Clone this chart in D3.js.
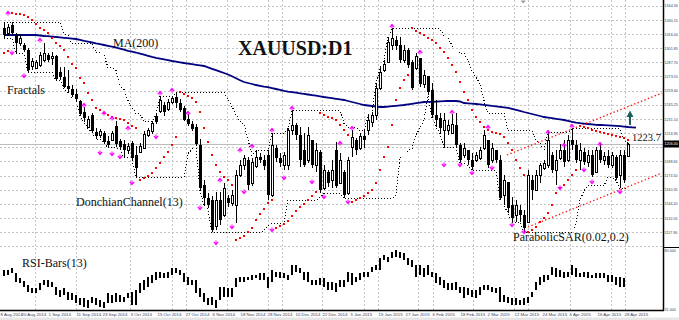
<!DOCTYPE html>
<html>
<head>
<meta charset="utf-8">
<script src="https://cdnjs.cloudflare.com/ajax/libs/d3/7.8.5/d3.min.js"></script>
<style>
  body { margin: 0; background: #fff; }
  svg { display: block; }
  .lbl { font-family: "Liberation Serif", "Times New Roman", serif; fill: #111; }
  .axis text { font-family: "Liberation Sans", Arial, sans-serif; font-size: 4.4px; fill: #3a3a5a; }
  .axis.right text { font-size: 3.7px; }
  .axis path, .axis line { display: none; }
</style>
</head>
<body>
<div id="chart"></div>
<script>
// daily XAUUSD bars, oldest first
const highs = [1328,1326,1328,1317,1315,1307,1302,1292,1290,1298,1307,1297,1298,1295,1283,1283,1280,1265,1261,1250,1243,1234,1237,1222,1221,1219,1214,1219,1229,1211,1210,1207,1209,1204,1207,1219,1222,1228,1236,1254,1248,1251,1254,1258,1251,1244,1236,1229,1226,1211,1170,1157,1154,1158,1158,1167,1155,1160,1180,1190,1195,1193,1192,1200,1197,1195,1200,1217,1205,1197,1198,1222,1240,1227,1223,1217,1223,1210,1207,1200,1185,1180,1190,1208,1197,1180,1193,1220,1212,1217,1220,1235,1238,1267,1283,1290,1313,1322,1314,1313,1305,1302,1290,1297,1290,1280,1273,1267,1250,1237,1237,1230,1236,1237,1207,1207,1200,1197,1198,1203,1220,1210,1207,1200,1195,1175,1168,1153,1150,1145,1140,1180,1175,1180,1187,1190,1218,1198,1200,1206,1210,1215,1222,1210,1207,1202,1200,1200,1203,1206,1198,1200,1198,1195,1200,1200,1207];
const lows = [1312,1314,1315,1297,1304,1298,1278,1280,1281,1283,1288,1288,1285,1270,1270,1262,1258,1253,1250,1235,1228,1222,1218,1211,1212,1207,1203,1209,1203,1201,1193,1196,1190,1173,1197,1201,1213,1216,1226,1237,1234,1239,1246,1242,1238,1229,1224,1219,1204,1160,1144,1142,1118,1120,1125,1133,1143,1144,1127,1173,1180,1160,1164,1182,1187,1180,1150,1153,1188,1183,1180,1180,1215,1210,1183,1183,1187,1182,1178,1157,1160,1163,1162,1162,1167,1152,1155,1193,1195,1200,1202,1215,1223,1230,1260,1278,1288,1300,1300,1287,1287,1282,1260,1280,1263,1262,1255,1233,1223,1217,1203,1215,1217,1203,1187,1192,1185,1180,1188,1190,1200,1182,1187,1187,1150,1145,1137,1128,1128,1128,1118,1127,1150,1160,1167,1180,1182,1177,1165,1190,1183,1188,1200,1187,1180,1185,1183,1173,1178,1187,1185,1182,1182,1170,1162,1167,1193];
const opens = [1322,1317,1325,1315,1307,1305,1300,1284,1282,1285,1290,1295,1292,1294,1278,1273,1264,1261,1256,1249,1238,1223,1235,1218,1215,1217,1209,1210,1224,1209,1206,1200,1207,1195,1198,1202,1215,1219,1234,1239,1245,1241,1248,1253,1247,1242,1231,1226,1223,1205,1165,1152,1150,1124,1150,1135,1152,1147,1145,1175,1185,1190,1167,1184,1193,1190,1195,1155,1202,1192,1185,1185,1220,1225,1215,1200,1190,1210,1185,1198,1162,1178,1170,1200,1167,1178,1157,1203,1210,1202,1214,1220,1228,1235,1262,1280,1288,1305,1310,1305,1290,1300,1288,1282,1292,1266,1274,1260,1235,1232,1220,1220,1217,1225,1205,1195,1200,1190,1190,1192,1202,1210,1190,1200,1190,1155,1168,1145,1135,1140,1135,1128,1170,1160,1175,1182,1185,1195,1180,1192,1200,1190,1210,1205,1190,1198,1188,1195,1178,1200,1190,1194,1185,1193,1175,1195,1194];
const closes = [1315,1323,1317,1307,1312,1300,1280,1289,1288,1295,1297,1290,1294,1271,1273,1263,1261,1255,1251,1236,1232,1231,1219,1214,1219,1208,1205,1217,1206,1203,1200,1204,1192,1182,1204,1216,1220,1227,1228,1250,1238,1248,1252,1247,1240,1230,1226,1221,1206,1162,1152,1145,1120,1150,1130,1162,1147,1155,1175,1185,1192,1165,1188,1193,1190,1184,1155,1205,1192,1187,1195,1220,1225,1215,1190,1185,1215,1185,1200,1160,1180,1167,1180,1164,1190,1155,1190,1213,1200,1214,1210,1230,1235,1262,1278,1286,1308,1312,1304,1290,1300,1285,1262,1294,1266,1275,1258,1235,1230,1222,1230,1225,1226,1205,1190,1202,1190,1183,1195,1200,1215,1185,1202,1190,1152,1170,1142,1132,1145,1135,1122,1175,1160,1175,1185,1187,1210,1180,1190,1200,1188,1210,1205,1190,1200,1188,1195,1175,1200,1190,1194,1185,1195,1172,1195,1170,1206];

// MA(200), runs two bars past the last candle
const ma200 = [1315,1315,1315,1315,1315,1315,1315,1315,1315,1314.5,1314,1313.8,1313.4,1313,1312.6,1312.2,1311.8,1311.4,1311,1310.2,1309.2,1308.4,1307.5,1306.6,1305.8,1305,1304.2,1303.4,1302.5,1301.4,1300.3,1299.2,1298.4,1297.5,1296.4,1295.3,1294.2,1293.1,1292.2,1291.4,1290.6,1289.8,1289,1288.4,1287.7,1287,1286.4,1285.8,1285.2,1284.6,1284,1282.6,1281.2,1279.8,1278.4,1277,1275.5,1273.7,1271.7,1269.8,1268,1267,1266,1265,1264.2,1263.4,1262.8,1261.9,1261,1260.1,1259.2,1258.4,1257.9,1257.3,1256.7,1256.1,1255.5,1254.9,1254.3,1253.7,1253,1252.4,1251.8,1251.2,1250.6,1250,1249,1248,1247,1246,1245,1244.5,1244,1243.5,1243,1243,1243.4,1243.8,1244.2,1244.6,1245,1245.6,1246.2,1246.8,1247.4,1248,1248.1,1248.2,1248.4,1248.6,1248.8,1249,1249,1249,1248.5,1247,1246.7,1246.4,1246,1245.6,1245.1,1244.6,1244.1,1243.7,1243.2,1242.7,1242.2,1241.2,1240.2,1239.1,1238,1237,1236,1235,1234,1233,1232.4,1231.8,1231.2,1230.6,1230,1229.1,1228.2,1227.3,1226.8,1226.4,1226,1225.6,1225.2,1225,1224.8,1224.6,1224.4,1224.2,1223.8,1223.4,1223,1222.7,1222.4];

// Parabolic SAR(0.02,0.2)
const sar = [1297,1299,1337,1336,1336,1335,1333,1330,1326,1322,1320,1317,1312,1307,1304,1300,1293,1286,1282,1272,1267,1257,1250,1242,1240,1237,1235,1233,1232,1231,1230,1227,1224,1222,1170,1172,1174,1177,1182,1187,1193,1198,1205,1213,1258,1256,1254,1252,1248,1238,1222,1208,1195,1185,1178,1173,1170,1165,1110,1112,1114,1118,1122,1130,1136,1141,1147,1150,1122,1124,1126,1129,1134,1139,1143,1146,1150,1154,1158,1237,1235,1233,1232,1230,1225,1220,1215,1148,1150,1152,1154,1157,1160,1167,1180,1193,1203,1225,1250,1262,1270,1275,1322,1319,1317,1315,1312,1310,1307,1302,1298,1292,1285,1278,1268,1258,1250,1240,1233,1228,1223,1220,1218,1217,1216,1213,1207,1200,1190,1182,1175,1118,1120,1123,1128,1132,1137,1145,1157,1162,1165,1170,1175,1180,1224,1223,1222,1220,1219,1218,1217,1216,1215,1214,1213,1212,1210];

// RSI-Bars(13): upper and lower end of each bar
const rsiHigh = [60,60,62,57,52,49,45,42,42,47,50,50,48,43,40,42,38,37,35,32,32,30,33,32,30,28,37,35,37,35,33,37,38,40,47,50,53,55,58,58,57,58,62,62,60,57,53,50,50,42,37,32,33,30,43,43,42,42,52,53,53,53,55,55,57,57,53,60,58,58,57,55,65,65,62,58,58,50,50,52,52,48,48,47,50,50,58,57,53,57,58,58,63,65,72,75,73,78,80,78,77,72,70,65,65,62,65,58,57,53,50,47,47,48,43,43,42,40,40,43,45,45,43,42,43,35,33,32,32,30,32,33,38,48,53,55,55,63,62,60,58,58,65,62,57,58,58,55,57,57,57,55,55,53,53,52,55];
const rsiLow = [54,55,57,48,47,43,38,37,37,40,45,43,43,35,33,35,30,30,27,25,23,22,27,25,23,22,27,27,28,28,28,32,25,25,37,40,43,47,50,52,52,52,55,57,55,48,45,45,37,33,28,25,25,22,30,33,33,33,43,48,48,50,50,52,50,50,42,48,53,52,52,50,55,58,57,50,48,45,45,45,43,40,40,38,43,43,48,45,48,50,53,53,58,60,60,70,68,72,73,72,70,65,63,53,55,53,55,53,47,45,42,40,40,40,37,32,35,33,32,35,40,40,38,37,28,28,27,25,25,25,25,27,33,40,45,48,50,55,53,53,52,53,55,53,53,53,52,52,52,52,52,48,48,45,43,43];

// fractal marks: [bar, price]
const fractalsUp = [[1,1337],[9,1310],[20,1245],[25,1237],[27,1232],[31,1222],[39,1257],[42,1260],[46,1237],[54,1170],[59,1200],[62,1204],[67,1220],[72,1242],[84,1207],[87,1222],[97,1324],[104,1298],[112,1238],[121,1223],[136,1218],[140,1205],[142,1224],[149,1206]];
const fractalsDown = [[2,1297],[5,1274],[24,1197],[27,1196],[29,1193],[32,1167],[38,1213],[49,1142],[53,1107],[57,1123],[60,1158],[67,1120],[70,1172],[77,1168],[80,1153],[86,1148],[110,1185],[114,1185],[117,1177],[122,1182],[127,1125],[130,1118],[139,1162],[145,1180],[147,1168],[154,1158]];

// hand-drawn channel: [bar, price] end points
const channelUpper = [[125.75, 1195], [164.5, 1257]];
const channelLower = [[131, 1123], [164.5, 1177]];

const priceTicks = [1344.30,1330.15,1316.00,1301.85,1287.70,1273.55,1259.40,1245.25,1231.10,1216.95,1202.80,1188.65,1174.50,1160.35,1146.20,1132.05,1117.90,1103.75];
const rsiScaleLabels = [80, 21];
const gridBars = [7.75,18,31.5,42,45.5,55.75,66,69.5,79.5,90,93.5,103.5,107.25,117.25,127.5,131,141.5,151.75,155.25];
const dateBars = [-1,4.25,11,18,24.5,31.5,38.25,45.25,52,59,65.75,72.75,79.5,86.5,93.5,100.25,107,114,120.75,127.5,134.5,141.25,148.25,155];
const dateLabels = ["8 Aug 2014","20 Aug 2014","1 Sep 2014","11 Sep 2014","23 Sep 2014","3 Oct 2014","15 Oct 2014","27 Oct 2014","6 Nov 2014","18 Nov 2014","28 Nov 2014","10 Dec 2014","22 Dec 2014","5 Jan 2015","15 Jan 2015","27 Jan 2015","6 Feb 2015","18 Feb 2015","2 Mar 2015","12 Mar 2015","24 Mar 2015","6 Apr 2015","16 Apr 2015","28 Apr 2015"];

const W = 679, H = 320;
const plotRight = 663, mainBottom = 246, axisY = 310.5;
const nBars = highs.length;

const svg = d3.select('#chart').append('svg')
    .attr('width', W).attr('height', H);

svg.append('rect').attr('width', W).attr('height', H).attr('fill', '#fff');
svg.append('rect').attr('x', 0).attr('y', 317.5).attr('width', W).attr('height', 3).attr('fill', '#e6e6e6');

const x = d3.scaleLinear().domain([0, 156]).range([4, 628]);
const y = d3.scaleLinear().domain([1104, 1350]).range([mainBottom, 0]);
const yRsi = d3.scaleLinear().domain([21, 80]).range([309, 250]);

const px = v => Math.round(x(v)) + 0.5;

// grid
const grid = svg.append('g').attr('stroke', '#c4c4c4').attr('stroke-dasharray', '2,2').attr('shape-rendering', 'crispEdges');
grid.selectAll('.hg').data(priceTicks).enter().append('line')
    .attr('x1', 0).attr('x2', plotRight)
    .attr('y1', d => Math.round(y(d)) + 0.5).attr('y2', d => Math.round(y(d)) + 0.5);
grid.selectAll('.vg').data(gridBars).enter().append('line')
    .attr('x1', d => px(d)).attr('x2', d => px(d))
    .attr('y1', 0).attr('y2', axisY);

// bid line
const lastClose = closes[nBars - 1];
svg.append('line').attr('x1', 0).attr('x2', plotRight)
    .attr('y1', Math.round(y(lastClose)) + 0.5).attr('y2', Math.round(y(lastClose)) + 0.5)
    .attr('stroke', '#bdbdbd').attr('shape-rendering', 'crispEdges');

// MA(200)
svg.append('path').datum(ma200)
    .attr('fill', 'none').attr('stroke', '#000080').attr('stroke-width', 1.8)
    .attr('d', d3.line().x((d, i) => x(i)).y(d => y(d)));

// Donchian channel (13), joined bar to bar like the terminal draws it
const upper = [], lower = [];
for (let i = 0; i < nBars; i++) {
    const lo = Math.max(0, i - 12);
    upper.push(d3.max(highs.slice(lo, i + 1)));
    lower.push(d3.min(lows.slice(lo, i + 1)));
}
[upper, lower].forEach(band => {
    svg.append('path').datum(band)
        .attr('fill', 'none').attr('stroke', '#000').attr('stroke-width', 1)
        .attr('stroke-dasharray', '1,2').attr('shape-rendering', 'crispEdges')
        .attr('d', d3.line().x((d, i) => x(i)).y(d => Math.round(y(d)) + 0.5));
});

// channel lines
[channelUpper, channelLower].forEach(seg => {
    svg.append('line')
        .attr('x1', x(seg[0][0])).attr('y1', y(seg[0][1]))
        .attr('x2', x(seg[1][0])).attr('y2', y(seg[1][1]))
        .attr('stroke', '#ff0000').attr('stroke-width', 1.3).attr('stroke-dasharray', '1.3,2.4');
});

// candles
const candles = svg.append('g').attr('shape-rendering', 'crispEdges');
d3.range(nBars).forEach(i => {
    const cx = px(i);
    candles.append('line').attr('x1', cx).attr('x2', cx)
        .attr('y1', y(highs[i])).attr('y2', y(lows[i])).attr('stroke', '#000');
    const top = y(Math.max(opens[i], closes[i]));
    const h = Math.max(1, Math.abs(y(opens[i]) - y(closes[i])));
    if (closes[i] >= opens[i]) {
        candles.append('rect').attr('x', cx - 1).attr('y', top).attr('width', 2).attr('height', h)
            .attr('fill', '#fff').attr('stroke', '#000');
    } else {
        candles.append('rect').attr('x', cx - 1.5).attr('y', top).attr('width', 3).attr('height', h)
            .attr('fill', '#000');
    }
});

// Parabolic SAR dots
svg.append('g').selectAll('rect').data(sar).enter().append('rect')
    .attr('x', (d, i) => Math.round(x(i)) - 1).attr('y', d => Math.round(y(d)) - 1)
    .attr('width', 2).attr('height', 2).attr('fill', '#ff0000');

// fractals
const fr = svg.append('g').attr('fill', 'none').attr('stroke', '#ff00ff').attr('stroke-width', 1.1);
fractalsUp.forEach(([b, p]) => {
    fr.append('path').attr('transform', `translate(${x(b)},${y(p)})`)
        .attr('d', 'M-2.2,1.2L0,-1.6L2.2,1.2M0,-1.6V2.6');
});
fractalsDown.forEach(([b, p]) => {
    fr.append('path').attr('transform', `translate(${x(b)},${y(p)})`)
        .attr('d', 'M-2.2,-1.2L0,1.6L2.2,-1.2M0,1.6V-2.6');
});

// RSI bars
svg.append('g').attr('shape-rendering', 'crispEdges').selectAll('rect').data(rsiHigh).enter().append('rect')
    .attr('x', (d, i) => Math.round(x(i)) - 1)
    .attr('y', d => yRsi(d))
    .attr('width', 2)
    .attr('height', (d, i) => Math.max(1, yRsi(rsiLow[i]) - yRsi(d)))
    .attr('fill', '#000');

// frame
svg.append('line').attr('x1', plotRight + 0.5).attr('x2', plotRight + 0.5).attr('y1', 0).attr('y2', axisY)
    .attr('stroke', '#000').attr('stroke-width', 1.5);
svg.append('line').attr('x1', 0).attr('x2', plotRight + 1).attr('y1', axisY).attr('y2', axisY)
    .attr('stroke', '#000').attr('stroke-width', 1.5);
svg.append('line').attr('x1', plotRight).attr('x2', W).attr('y1', 247.5).attr('y2', 247.5)
    .attr('stroke', '#000');

// chart shift marker
svg.append('path').attr('d', `M${x(129.8) - 2.5},0.5L${x(129.8) + 2.5},0.5L${x(129.8)},3.5Z`).attr('fill', '#9a9a9a');

// price axis
const bidY = y(lastClose);
svg.append('g').attr('class', 'axis right')
    .attr('transform', `translate(${plotRight + 1.5},0)`)
    .call(d3.axisRight(y).tickValues(priceTicks.filter(t => Math.abs(y(t) - bidY) > 6 && y(t) < 240))
        .tickSize(0).tickPadding(0).tickFormat(d3.format('.2f')));

svg.append('rect').attr('x', plotRight + 1).attr('y', bidY - 3.5).attr('width', W - plotRight).attr('height', 7).attr('fill', '#000');
svg.append('text').attr('x', plotRight + 1.5).attr('y', bidY + 1.4)
    .style('font-family', 'Liberation Sans, Arial, sans-serif').style('font-size', '3.7px')
    .attr('fill', '#fff').text(d3.format('.2f')(lastClose));

svg.append('g').attr('class', 'axis right')
    .attr('transform', `translate(${plotRight + 1.5},0)`)
    .call(d3.axisRight(yRsi).tickValues(rsiScaleLabels).tickSize(0).tickPadding(0).tickFormat(d3.format('.3f')));

// time axis
const tAxis = svg.append('g').attr('class', 'axis')
    .attr('transform', `translate(0,${axisY + 1})`)
    .call(d3.axisBottom(x).tickValues(dateBars).tickSize(0).tickPadding(1)
        .tickFormat((d, i) => dateLabels[i]));
tAxis.selectAll('text').attr('text-anchor', 'start');

// annotations
svg.append('text').attr('class', 'lbl').attr('x', 238).attr('y', 55)
    .style('font-size', '20px').style('font-weight', 'bold').text('XAUUSD:D1');
svg.append('text').attr('class', 'lbl').attr('x', 113).attr('y', 46.5).style('font-size', '12px').text('MA(200)');
svg.append('text').attr('class', 'lbl').attr('x', 7).attr('y', 94).style('font-size', '12px').text('Fractals');
svg.append('text').attr('class', 'lbl').attr('x', 76).attr('y', 206).style('font-size', '12px').text('DonchianChannel(13)');
svg.append('text').attr('class', 'lbl').attr('x', 22).attr('y', 267).style('font-size', '12px').text('RSI-Bars(13)');
svg.append('text').attr('class', 'lbl').attr('x', 513).attr('y', 241).style('font-size', '12px').text('ParabolicSAR(0.02,0.2)');
svg.append('text').attr('class', 'lbl').attr('x', 632).attr('y', 140.5).style('font-size', '10.5px')
    .text(d3.format('.1f')(ma200[ma200.length - 1] + 1.3));

// breakout arrow
const ax = x(156.5);
svg.append('path')
    .attr('d', `M${ax - 1},125 L${ax - 1},117 L${ax - 3.5},117 L${ax},110.5 L${ax + 3.5},117 L${ax + 1},117 L${ax + 1},125 Z`)
    .attr('fill', '#1d5f5f');
</script>
</body>
</html>
